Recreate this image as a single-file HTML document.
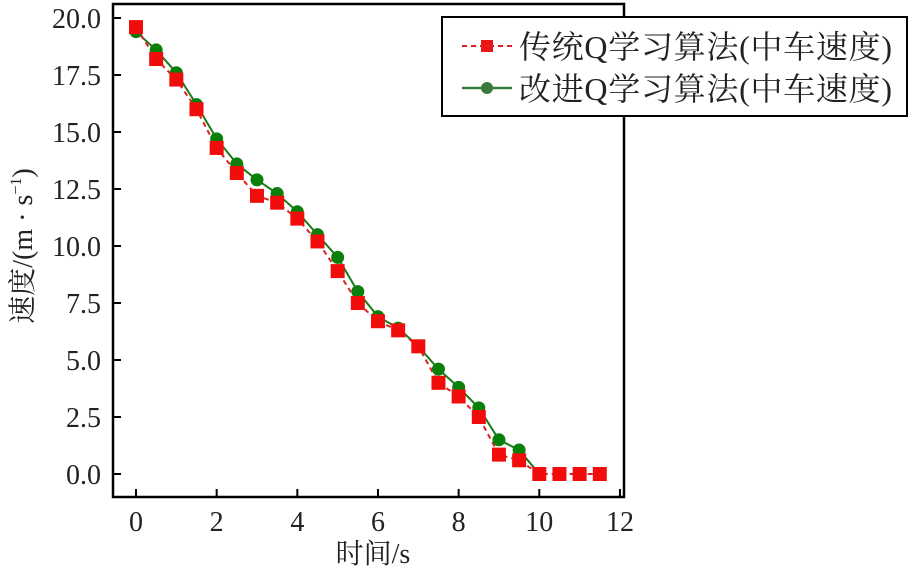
<!DOCTYPE html>
<html><head><meta charset="utf-8">
<style>html,body{margin:0;padding:0;background:#fff;}svg{display:block;}</style>
</head><body>
<svg id="s" width="909" height="571" xmlns="http://www.w3.org/2000/svg" font-family="Liberation Serif, Noto Serif CJK SC, serif">
<rect x="113" y="4" width="511" height="493" fill="none" stroke="#000" stroke-width="2.5"/>
<g id="ax" fill="#222" font-size="28"></g>
<text x="373" y="563" font-size="28" text-anchor="middle" fill="#222">时间/s</text>
<text transform="translate(32,246) rotate(-90)" font-size="28" text-anchor="middle" fill="#222">速度/(m · s<tspan dy="-11" font-size="16">−1</tspan><tspan dy="11">)</tspan></text>
<g id="d"></g>
<rect x="442" y="17" width="465" height="99" fill="#fff" stroke="#000" stroke-width="2"/>
<line x1="462" y1="46" x2="512" y2="46" stroke="#e02020" stroke-width="2" stroke-dasharray="5,4"/>
<rect x="481" y="40" width="12" height="12" fill="#e81818"/>
<line x1="462" y1="88" x2="512" y2="88" stroke="#3a7a3a" stroke-width="2.5"/>
<circle cx="487" cy="88" r="6" fill="#3a7a3a"/>
<text x="519" y="58" font-size="32" fill="#222" textLength="373" lengthAdjust="spacing">传统Q学习算法(中车速度)</text>
<text x="519" y="100" font-size="32" fill="#222" textLength="373" lengthAdjust="spacing">改进Q学习算法(中车速度)</text>
</svg>
<script>
var NS="http://www.w3.org/2000/svg";
function X(t){return 136+t*40.33;}function Y(v){return 474-v*22.8;}
function el(p,n,a){var e=document.createElementNS(NS,n);for(var k in a)e.setAttribute(k,a[k]);p.appendChild(e);return e;}
var ax=document.getElementById("ax");
for(var t=0;t<=12;t+=2){el(ax,"line",{x1:X(t),x2:X(t),y1:497,y2:489,stroke:"#000","stroke-width":2});var tx=el(ax,"text",{x:X(t),y:531,"text-anchor":"middle"});tx.textContent=t;}
for(var v=0;v<=20;v+=2.5){el(ax,"line",{x1:113,x2:121,y1:Y(v),y2:Y(v),stroke:"#000","stroke-width":2});var ty=el(ax,"text",{x:101,y:Y(v)+10,"text-anchor":"end"});ty.textContent=v.toFixed(1);}
var r=[19.6,18.2,17.3,16.0,14.3,13.2,12.2,11.9,11.2,10.2,8.9,7.5,6.7,6.3,5.6,4.0,3.4,2.5,0.85,0.6,0,0,0,0];
var g=[19.4,18.6,17.6,16.2,14.7,13.6,12.9,12.3,11.5,10.5,9.5,8.0,6.9,6.4,5.6,4.6,3.8,2.9,1.5,1.05,0];
var d=document.getElementById("d");
var pg=g.map(function(v,i){return X(i*0.5)+","+Y(v);}).join(" ");
var pr=r.map(function(v,i){return X(i*0.5)+","+Y(v);}).join(" ");
el(d,"polyline",{points:pg,fill:"none",stroke:"#1a7a1a","stroke-width":2});
el(d,"polyline",{points:pr,fill:"none",stroke:"#e02020","stroke-width":2,"stroke-dasharray":"5,4"});
g.forEach(function(v,i){el(d,"circle",{cx:X(i*0.5),cy:Y(v),r:6.5,fill:"#0a7f0a"});});
r.forEach(function(v,i){el(d,"rect",{x:X(i*0.5)-7,y:Y(v)-7,width:14,height:14,fill:"#f20d0d"});});
</script>
</body></html>
